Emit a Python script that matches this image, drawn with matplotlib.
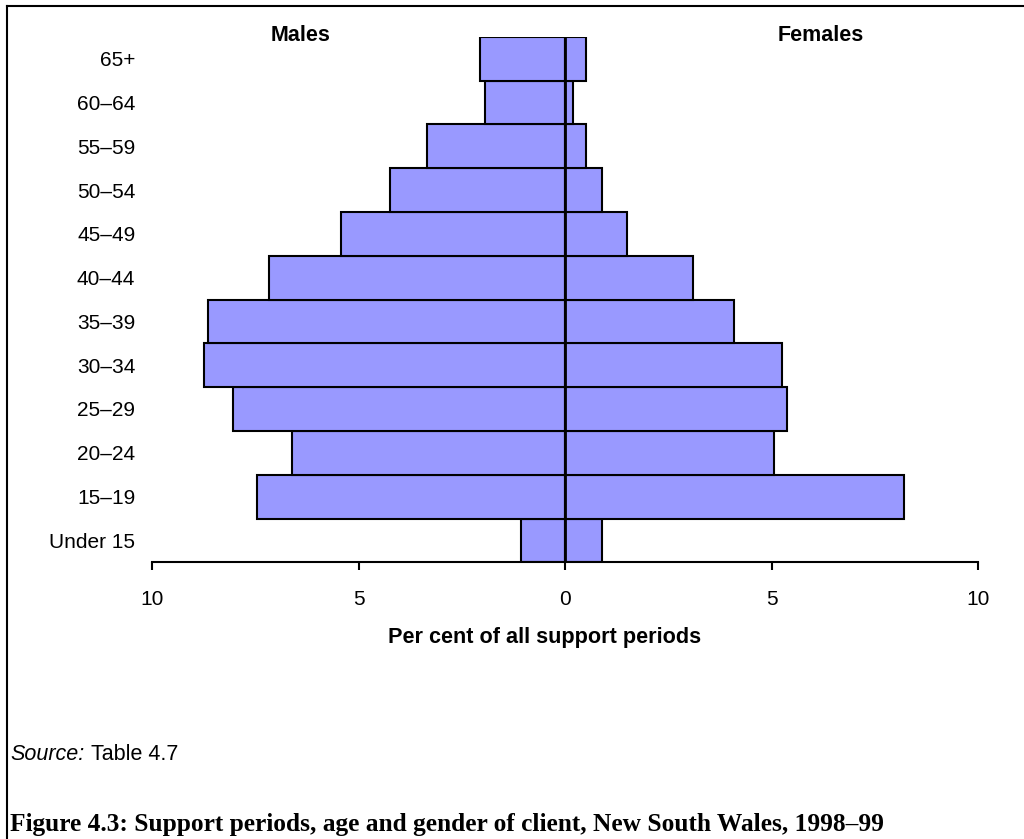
import matplotlib.pyplot as plt
from matplotlib.lines import Line2D

# age groups, bottom to top
ages = ["Under 15", "15\u201319", "20\u201324", "25\u201329", "30\u201334", "35\u201339",
        "40\u201344", "45\u201349", "50\u201354", "55\u201359", "60\u201364", "65+"]
males = [1.06, 7.45, 6.61, 8.05, 8.75, 8.64, 7.17, 5.42, 4.23, 3.33, 1.94, 2.05]
females = [0.90, 8.22, 5.06, 5.37, 5.26, 4.08, 3.09, 1.50, 0.90, 0.50, 0.19, 0.50]
xticks = [-10, -5, 0, 5, 10]

plt.rcParams["font.family"] = ["Liberation Sans", "DejaVu Sans"]

fig = plt.figure(figsize=(10.24, 8.39), dpi=100)
ax = fig.add_axes([152 / 1024, 1 - 562.3 / 839, (978 - 152) / 1024, (562.3 - 36.7) / 839])

y = list(range(len(ages)))
bar_kw = dict(height=1.0, color="#9999ff", edgecolor="black", linewidth=1.5)
ax.barh(y, [-m for m in males], **bar_kw)
ax.barh(y, females, **bar_kw)

# centre line
ax.plot([0, 0], [-0.5, len(ages) - 0.5], color="black", linewidth=2, zorder=5)

ax.set_xlim(-10, 10)
ax.set_ylim(-0.5, len(ages) - 0.5)
ax.set_xticks(xticks)
ax.set_xticklabels([str(abs(t)) for t in xticks], fontsize=15)
ax.set_yticks(y)
ax.set_yticklabels(ages, fontsize=15)
ax.tick_params(axis="y", length=0, pad=12)
ax.tick_params(axis="x", length=6, width=1.5, pad=14, direction="out")

for s in ["top", "right", "left"]:
    ax.spines[s].set_visible(False)
ax.spines["bottom"].set_linewidth(1.5)

ax.text(-6.4, 11.52, "Males", fontsize=15.5, fontweight="bold", ha="center", va="center")
ax.text(6.2, 11.52, "Females", fontsize=15.5, fontweight="bold", ha="center", va="center")

fig.text(545 / 1024, 1 - 638 / 839, "Per cent of all support periods",
         fontsize=15.6, fontweight="bold", ha="center", va="center")

fig.text(10 / 1024, 1 - 755 / 839, "Source:", fontsize=15.5, style="italic",
         ha="left", va="center")
fig.text(91 / 1024, 1 - 755 / 839, "Table 4.7", fontsize=15.5, ha="left", va="center")

fig.text(10 / 1024, 1 - 825 / 839,
         "Figure 4.3: Support periods, age and gender of client, New South Wales, 1998\u201399",
         fontsize=18.3, fontweight="bold", family="Liberation Serif",
         ha="left", va="center")

# frame around the figure (left and top)
fig.add_artist(Line2D([7 / 1024, 7 / 1024], [0, 1 - 6 / 839], color="black", linewidth=1.5))
fig.add_artist(Line2D([7 / 1024, 1], [1 - 6 / 839, 1 - 6 / 839], color="black", linewidth=1.5))

fig.savefig("out.png", dpi=100)
